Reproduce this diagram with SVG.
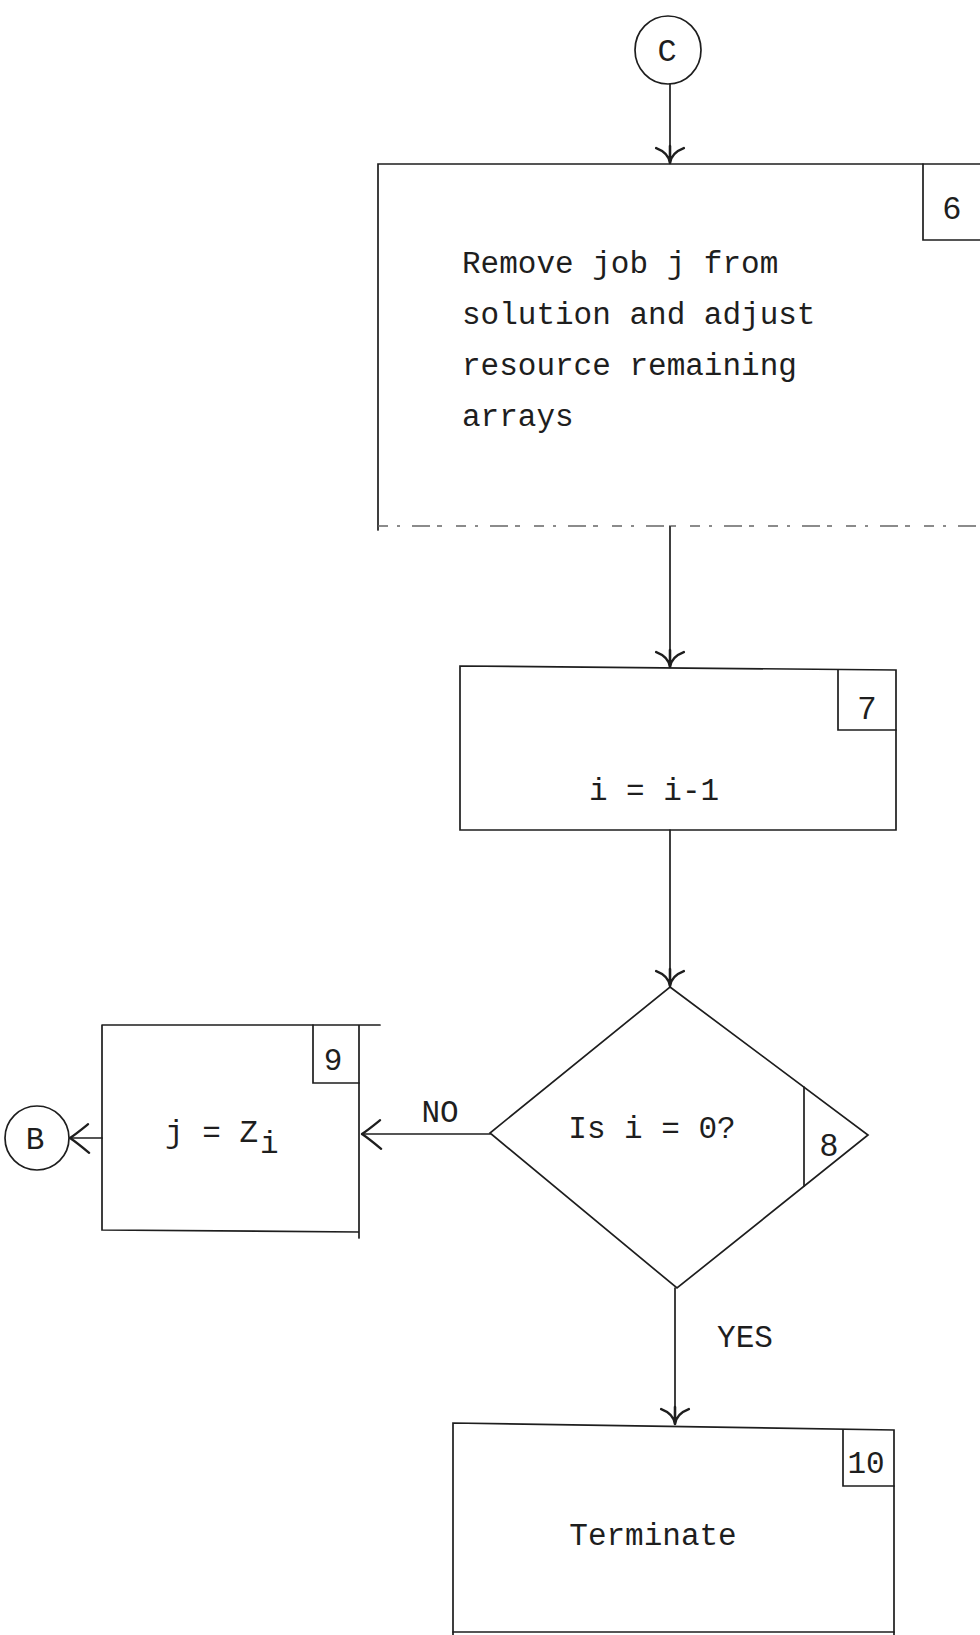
<svg xmlns="http://www.w3.org/2000/svg" width="980" height="1635" viewBox="0 0 980 1635">
  <defs>
    <style>
      .ln { fill: none; stroke: #1e1e1e; stroke-width: 1.7; stroke-linecap: round; }
      .faint { fill: none; stroke: #666; stroke-width: 1.3; stroke-dasharray: 10 9 3 12 18 7 5 14; }
      .tx { font-family: "Liberation Mono", "Courier New", monospace; font-size: 31px; fill: #1e1e1e; }
      .num { font-family: "Liberation Sans", Arial, sans-serif; font-size: 32px; fill: #1e1e1e; }
      .mid { text-anchor: middle; }
    </style>
    <!-- flared "Y" head used on the vertical flow lines -->
    <marker id="arrY" markerUnits="userSpaceOnUse" markerWidth="30" markerHeight="34" viewBox="-18 -16 22 32" refX="0" refY="0" orient="auto">
      <path d="M0,0 C-7,-1 -11,-5 -14,-13 M0,0 C-7,1 -11,5 -14,13 M0,0 L-16,0" fill="none" stroke="#1e1e1e" stroke-width="2.4" stroke-linecap="round"/>
    </marker>
    <!-- plain chevron head used on the horizontal flow lines -->
    <marker id="arrV" markerUnits="userSpaceOnUse" markerWidth="30" markerHeight="34" viewBox="-22 -16 26 32" refX="0" refY="0" orient="auto">
      <path d="M0,0 C-6,-4 -12,-9 -18,-14 M0,0 C-6,4 -12,9 -17,13" fill="none" stroke="#1e1e1e" stroke-width="2.2" stroke-linecap="round"/>
    </marker>
  </defs>
  <rect width="980" height="1635" fill="#ffffff"/>

  <!-- connectors -->
  <g id="connectors">
    <path class="ln" d="M670,84 L670,163" marker-end="url(#arrY)"/>
    <path class="ln" d="M670,526 L670,667" marker-end="url(#arrY)"/>
    <path class="ln" d="M670,830 L670,986" marker-end="url(#arrY)"/>
    <path class="ln" d="M490,1134 L362,1134" marker-end="url(#arrV)"/>
    <path class="ln" d="M102,1138 L70,1138" marker-end="url(#arrV)"/>
    <path class="ln" d="M675,1288 L675,1424" marker-end="url(#arrY)"/>
    <text class="tx mid" x="440" y="1122">NO</text>
    <text class="tx mid" x="745" y="1347">YES</text>
  </g>

  <!-- connector C -->
  <g id="conn-c">
    <ellipse class="ln" cx="668" cy="50" rx="33" ry="34"/>
    <text class="tx mid" x="667" y="61" style="font-size:32px">C</text>
  </g>

  <!-- step 6 -->
  <g id="step6">
    <path class="ln" d="M378,530 L378,164 L980,164"/>
    <path class="faint" d="M378,526 L980,526"/>
    <path class="ln" d="M980,240 L923,240 L923,164"/>
    <text class="num mid" x="952" y="219">6</text>
    <text class="tx" x="462" y="273">Remove job j from</text>
    <text class="tx" x="462" y="324">solution and adjust</text>
    <text class="tx" x="462" y="375">resource remaining</text>
    <text class="tx" x="462" y="426">arrays</text>
  </g>

  <!-- step 7 -->
  <g id="step7">
    <path class="ln" d="M460,666 L896,670 L896,830 L460,830 Z"/>
    <path class="ln" d="M838,670 L838,730 L896,730"/>
    <text class="num mid" x="867" y="719">7</text>
    <text class="tx mid" x="654" y="800">i = i-1</text>
  </g>

  <!-- step 8 decision -->
  <g id="step8">
    <polygon class="ln" points="670,987 868,1135 677,1288 490,1133"/>
    <path class="ln" d="M804,1087 L804,1186"/>
    <text class="num mid" x="829" y="1156">8</text>
    <text class="tx mid" x="652" y="1138">Is i = 0?</text>
  </g>

  <!-- step 9 -->
  <g id="step9">
    <path class="ln" d="M102,1025 L380,1025 M359,1025 L359,1238 M102,1025 L102,1230 L359,1232"/>
    <path class="ln" d="M313,1025 L313,1083 L359,1083"/>
    <text class="tx mid" x="333" y="1070">9</text>
    <text class="tx" x="165" y="1142">j = Z<tspan dx="2" dy="11">i</tspan></text>
  </g>

  <!-- connector B -->
  <g id="conn-b">
    <circle class="ln" cx="37" cy="1138" r="32"/>
    <text class="tx mid" x="35" y="1149">B</text>
  </g>

  <!-- step 10 -->
  <g id="step10">
    <path class="ln" d="M453,1635 L453,1423 L894,1430 L894,1635"/>
    <path class="ln" d="M453,1632 L894,1632"/>
    <path class="ln" d="M843,1430 L843,1486 L894,1486"/>
    <text class="tx mid" x="866" y="1473">10</text>
    <text class="tx mid" x="653" y="1545">Terminate</text>
  </g>
</svg>
